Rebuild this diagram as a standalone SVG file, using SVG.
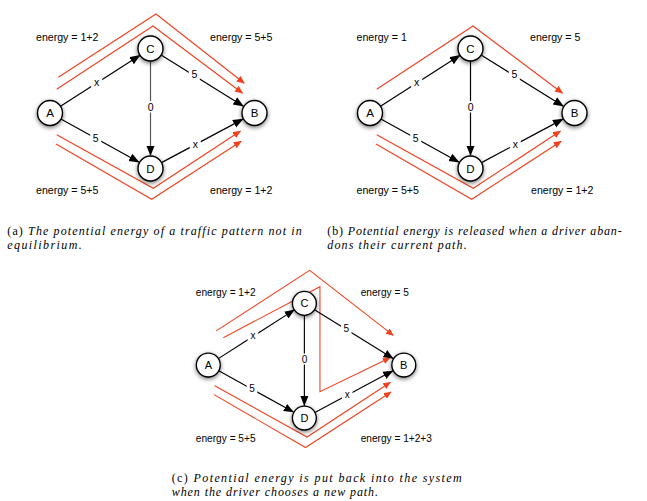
<svg xmlns="http://www.w3.org/2000/svg" width="647" height="501" viewBox="0 0 647 501">
<style>
.nd{fill:#fff;stroke:#000;stroke-width:1.4}
.nl{font-family:"Liberation Sans",Arial,sans-serif;font-size:11.5px;text-anchor:middle;fill:#000}
.el{font-family:"Liberation Sans",Arial,sans-serif;font-size:10.5px;text-anchor:middle;fill:#000}
.en{font-family:"Liberation Sans",Arial,sans-serif;font-size:10.6px;fill:#000}
.ed{fill:none;stroke:#000;stroke-width:1.2;marker-end:url(#ah)}
.gr{stroke:#555}
.rd{fill:none;stroke:#f0401e;stroke-width:1.1;marker-end:url(#rh)}
.bg{fill:#fff}
.cap{font-family:"Liberation Serif","Times New Roman",serif;font-size:12px;fill:#000}
.it{font-style:italic}
</style>
<defs>
<marker id="ah" markerUnits="userSpaceOnUse" markerWidth="12" markerHeight="10" viewBox="0 0 12 10" refX="10" refY="4.5" orient="auto"><path d="M0,0.3 L10.5,4.5 L0,8.7 z" fill="#000"/></marker>
<marker id="rh" markerUnits="userSpaceOnUse" markerWidth="10" markerHeight="8" viewBox="0 0 10 8" refX="7.5" refY="3.5" orient="auto"><path d="M0,0 L8,3.5 L0,7 z" fill="#f0401e"/></marker>
<filter id="sh" x="-60%" y="-60%" width="220%" height="220%"><feDropShadow dx="0" dy="1.5" stdDeviation="2" flood-color="#000" flood-opacity="0.55"/></filter>
</defs>

<!-- Panel (a) -->
<g id="panel-a">
<g id="a-connectors">
<path class="rd" d="M58.3,77.3 L156,14 L244.3,83.3"/>
<path class="rd" d="M56.7,89.3 L153,26 L242.6,93.2"/>
<path class="rd" d="M56.7,134.7 L153.3,188.3 L240.5,131"/>
<path class="rd" d="M56,144 L151.7,199.3 L241.2,141.2"/>
<path class="ed" d="M60.5,106.3 L140,55.3"/>
<path class="ed" d="M60.9,119 L139.1,162.2"/>
<path class="ed" d="M161.1,55.1 L243.4,106.2"/>
<path class="ed" d="M161.5,162.6 L243,119.1"/>
<path class="ed gr" d="M150.5,61 L150.5,155.5"/>
<rect class="bg" x="91.2" y="76.5" width="11" height="11.5"/>
<rect class="bg" x="90.2" y="132" width="11" height="11.5"/>
<rect class="bg" x="145.2" y="101" width="11" height="11.5"/>
<rect class="bg" x="188.8" y="68.5" width="11" height="11.5"/>
<rect class="bg" x="189.8" y="138.5" width="11" height="11.5"/>
<text class="el" x="96.7" y="86">x</text>
<text class="el" x="95.7" y="141.5">5</text>
<text class="el" x="150.7" y="110.5">0</text>
<text class="el" x="194.3" y="78">5</text>
<text class="el" x="195.3" y="148">x</text>
</g>
<g id="a-A"><circle class="nd" cx="50" cy="113" r="12.5" filter="url(#sh)"/><text class="nl" x="50" y="117.2">A</text></g>
<g id="a-B"><circle class="nd" cx="254.5" cy="113" r="12.5" filter="url(#sh)"/><text class="nl" x="254.5" y="117.2">B</text></g>
<g id="a-C"><circle class="nd" cx="150.5" cy="48.5" r="12.5" filter="url(#sh)"/><text class="nl" x="150.5" y="52.7">C</text></g>
<g id="a-D"><circle class="nd" cx="150.5" cy="168.5" r="12.5" filter="url(#sh)"/><text class="nl" x="150.5" y="172.7">D</text></g>
<text class="en" x="36" y="40.5">energy = 1+2</text>
<text class="en" x="210" y="40.5">energy = 5+5</text>
<text class="en" x="36" y="193.5">energy = 5+5</text>
<text class="en" x="210" y="193.5">energy = 1+2</text>
</g>

<!-- Panel (b) -->
<g id="panel-b" transform="translate(320,0)">
<g id="b-connectors">
<path class="rd" d="M56.7,89.3 L153,26 L242.6,93.2"/>
<path class="rd" d="M56.7,134.7 L153.3,188.3 L240.5,131"/>
<path class="rd" d="M56,144 L151.7,199.3 L241.2,141.2"/>
<path class="ed" d="M60.5,106.3 L140,55.3"/>
<path class="ed" d="M60.9,119 L139.1,162.2"/>
<path class="ed" d="M161.1,55.1 L243.4,106.2"/>
<path class="ed" d="M161.5,162.6 L243,119.1"/>
<path class="ed" d="M150.5,61 L150.5,155.5"/>
<rect class="bg" x="91.2" y="76.5" width="11" height="11.5"/>
<rect class="bg" x="90.2" y="132" width="11" height="11.5"/>
<rect class="bg" x="145.2" y="101" width="11" height="11.5"/>
<rect class="bg" x="188.8" y="68.5" width="11" height="11.5"/>
<rect class="bg" x="189.8" y="138.5" width="11" height="11.5"/>
<text class="el" x="96.7" y="86">x</text>
<text class="el" x="95.7" y="141.5">5</text>
<text class="el" x="150.7" y="110.5">0</text>
<text class="el" x="194.3" y="78">5</text>
<text class="el" x="195.3" y="148">x</text>
</g>
<g id="b-A"><circle class="nd" cx="50" cy="113" r="12.5" filter="url(#sh)"/><text class="nl" x="50" y="117.2">A</text></g>
<g id="b-B"><circle class="nd" cx="254.5" cy="113" r="12.5" filter="url(#sh)"/><text class="nl" x="254.5" y="117.2">B</text></g>
<g id="b-C"><circle class="nd" cx="150.5" cy="48.5" r="12.5" filter="url(#sh)"/><text class="nl" x="150.5" y="52.7">C</text></g>
<g id="b-D"><circle class="nd" cx="150.5" cy="168.5" r="12.5" filter="url(#sh)"/><text class="nl" x="150.5" y="172.7">D</text></g>
<text class="en" x="36.5" y="40.5">energy = 1</text>
<text class="en" x="210" y="40.5">energy = 5</text>
<text class="en" x="36.5" y="193.5">energy = 5+5</text>
<text class="en" x="211" y="193.5">energy = 1+2</text>
</g>

<!-- Panel (c) -->
<g id="panel-c" transform="translate(160.5,257) scale(0.956)">
<g id="c-connectors">
<path class="rd" d="M58.3,77.3 L156,14 L243.5,82"/>
<path class="rd" d="M65.7,84.4 L166.8,31.1 L166.8,140.9 L240.1,105.3"/>
<path class="rd" d="M56.7,134.7 L153.3,188.3 L240.5,131"/>
<path class="rd" d="M56,144 L151.7,199.3 L241.2,141.2"/>
<path class="ed" d="M60.5,106.3 L140,55.3"/>
<path class="ed" d="M60.9,119 L139.1,162.2"/>
<path class="ed" d="M161.1,55.1 L243.4,106.2"/>
<path class="ed" d="M161.5,162.6 L243,119.1"/>
<path class="ed" d="M150.5,61 L150.5,155.5"/>
<rect class="bg" x="91.2" y="76.5" width="11" height="11.5"/>
<rect class="bg" x="90.2" y="132" width="11" height="11.5"/>
<rect class="bg" x="145.2" y="101" width="11" height="11.5"/>
<rect class="bg" x="188.8" y="68.5" width="11" height="11.5"/>
<rect class="bg" x="189.8" y="138.5" width="11" height="11.5"/>
<text class="el" x="96.7" y="86">x</text>
<text class="el" x="95.7" y="141.5">5</text>
<text class="el" x="150.7" y="110.5">0</text>
<text class="el" x="194.3" y="78">5</text>
<text class="el" x="195.3" y="148">x</text>
</g>
<g id="c-A"><circle class="nd" cx="50" cy="113" r="12.5" filter="url(#sh)"/><text class="nl" x="50" y="117.2">A</text></g>
<g id="c-B"><circle class="nd" cx="254.5" cy="113" r="12.5" filter="url(#sh)"/><text class="nl" x="254.5" y="117.2">B</text></g>
<g id="c-C"><circle class="nd" cx="150.5" cy="48.5" r="12.5" filter="url(#sh)"/><text class="nl" x="150.5" y="52.7">C</text></g>
<g id="c-D"><circle class="nd" cx="150.5" cy="168.5" r="12.5" filter="url(#sh)"/><text class="nl" x="150.5" y="172.7">D</text></g>
<text class="en" x="37" y="40.5">energy = 1+2</text>
<text class="en" x="209.4" y="40.5">energy = 5</text>
<text class="en" x="37" y="193.5">energy = 5+5</text>
<text class="en" x="209.4" y="193.5">energy = 1+2+3</text>
</g>

<!-- Captions -->
<g id="captions">
<text class="cap" x="7.3" y="235" textLength="294.4" lengthAdjust="spacing">(a) <tspan class="it">The potential energy of a traffic pattern not in</tspan></text>
<text class="cap it" x="7.3" y="249.3" textLength="74.4" lengthAdjust="spacing">equilibrium.</text>
<text class="cap" x="327.3" y="235" textLength="294.4" lengthAdjust="spacing">(b) <tspan class="it">Potential energy is released when a driver aban-</tspan></text>
<text class="cap it" x="327.3" y="249.3" textLength="139.4" lengthAdjust="spacing">dons their current path.</text>
<text class="cap" x="171.7" y="481.7" textLength="290" lengthAdjust="spacing">(c) <tspan class="it">Potential energy is put back into the system</tspan></text>
<text class="cap it" x="171.7" y="495.7" textLength="206.3" lengthAdjust="spacing">when the driver chooses a new path.</text>
</g>
</svg>
